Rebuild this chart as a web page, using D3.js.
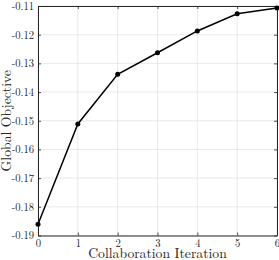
<!DOCTYPE html>
<html><head><meta charset="utf-8">
<script src="https://cdn.jsdelivr.net/npm/d3@7"></script>
<style>body{margin:0;background:#fff}svg{display:block}text{font-family:"Latin Modern Roman","CMU Serif","Liberation Serif","DejaVu Serif",serif;fill:#262626}</style>
</head><body>
<script>
const iterations = [0, 1, 2, 3, 4, 5, 6];
const objective = [-0.1861, -0.1511, -0.1338, -0.1263, -0.1187, -0.1127, -0.1107];
const xTicks = [0, 1, 2, 3, 4, 5, 6];
const yTicks = [-0.19, -0.18, -0.17, -0.16, -0.15, -0.14, -0.13, -0.12, -0.11];
const xLabel = "Collaboration Iteration";
const yLabel = "Global Objective";

const W = 279, H = 260;
const m = {left: 38, right: 2, top: 6, bottom: 24.5};
const svg = d3.select("body").append("svg").attr("width", W).attr("height", H);
const x = d3.scaleLinear().domain([0, 6]).range([m.left, W - m.right]);
const y = d3.scaleLinear().domain([-0.19, -0.11]).range([H - m.bottom, m.top]);
const ax = "#262626";

// grid
svg.append("g").selectAll("line").data(xTicks).join("line")
  .attr("x1", d => x(d)).attr("x2", d => x(d)).attr("y1", y.range()[0]).attr("y2", y.range()[1])
  .attr("stroke", "#e3e3e3").attr("stroke-width", 0.8);
svg.append("g").selectAll("line").data(yTicks).join("line")
  .attr("y1", d => y(d)).attr("y2", d => y(d)).attr("x1", x.range()[0]).attr("x2", x.range()[1])
  .attr("stroke", "#e3e3e3").attr("stroke-width", 0.8);

// axes
const fmt = d => d3.format(".2f")(d).replace("−", "-");
const xa = svg.append("g").attr("transform", `translate(0,${y.range()[0]})`)
  .call(d3.axisBottom(x).tickValues(xTicks).tickSize(-3).tickPadding(4).tickSizeOuter(0).tickFormat(d3.format("d")));
const xt = svg.append("g").attr("transform", `translate(0,${y.range()[1]})`)
  .call(d3.axisTop(x).tickValues(xTicks).tickSize(-3).tickSizeOuter(0).tickFormat(""));
const ya = svg.append("g").attr("transform", `translate(${x.range()[0]},0)`)
  .call(d3.axisLeft(y).tickValues(yTicks).tickSize(-3).tickPadding(4).tickSizeOuter(0).tickFormat(fmt));
const yr = svg.append("g").attr("transform", `translate(${x.range()[1]},0)`)
  .call(d3.axisRight(y).tickValues(yTicks).tickSize(-3).tickSizeOuter(0).tickFormat(""));
[xa, xt, ya, yr].forEach(g => {
  g.select(".domain").attr("stroke", ax).attr("stroke-width", 1);
  g.selectAll(".tick line").attr("stroke", ax).attr("stroke-width", 0.8);
  g.selectAll("text").attr("font-size", 10.6).attr("fill", ax)
    .style("font-family", '"Latin Modern Roman","CMU Serif","Liberation Serif",serif');
});

// line
svg.append("path").datum(iterations.map((d, i) => [d, objective[i]]))
  .attr("fill", "none").attr("stroke", "#000").attr("stroke-width", 1.5)
  .attr("d", d3.line().x(d => x(d[0])).y(d => y(d[1])));
svg.append("g").selectAll("circle").data(iterations).join("circle")
  .attr("cx", d => x(d)).attr("cy", (d, i) => y(objective[i])).attr("r", 2.5).attr("fill", "#000");

// labels
svg.append("text").attr("x", (x.range()[0] + x.range()[1]) / 2).attr("y", 258)
  .attr("text-anchor", "middle").attr("font-size", 13.7).text(xLabel);
svg.append("text").attr("transform", `translate(11,${(y.range()[0] + y.range()[1]) / 2}) rotate(-90)`)
  .attr("text-anchor", "middle").attr("font-size", 13.7).text(yLabel);
</script>
</body></html>
